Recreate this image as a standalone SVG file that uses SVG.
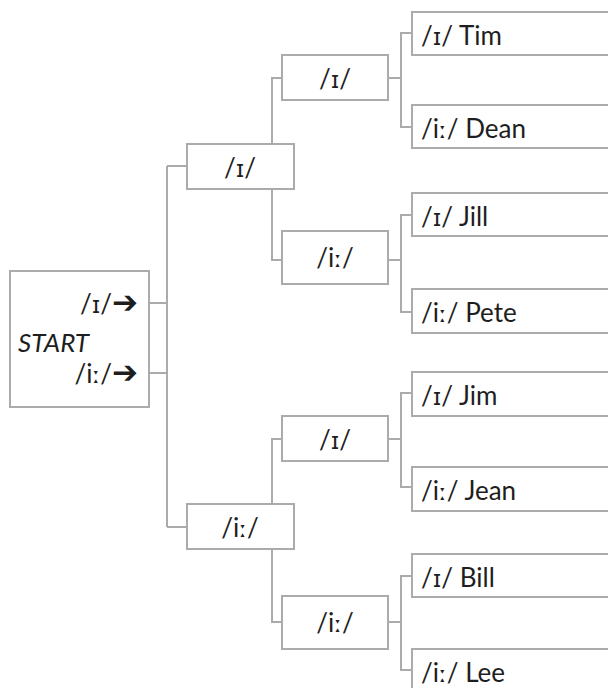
<svg xmlns="http://www.w3.org/2000/svg" width="608" height="688" viewBox="0 0 608 688">
<style>
.box{fill:#fff;stroke:#ababab;stroke-width:2}
.ln{fill:none;stroke:#ababab;stroke-width:2}
text{font-family:Lato,"DejaVu Sans",sans-serif;font-size:26px;fill:#1e1e1e}
.i{font-family:"DejaVu Sans",sans-serif;font-size:23px}
.c{text-anchor:middle}
.r{text-anchor:end}
.it{font-style:italic}
.ar{font-family:"DejaVu Sans",sans-serif;font-size:31px;font-weight:bold}
</style>
<rect width="608" height="688" fill="#fff"/>
<g id="connectors">
<path class="ln" d="M149 303H167M149 373H167M167 166V527M167 166H187M167 527H187"/>
<path class="ln" d="M272 144V78H282M272 189V260H282M272 504V439H282M272 549V622H282"/>
<path class="ln" d="M388 78H401M388 260H401M388 439H401M388 622H401"/>
<path class="ln" d="M412 33H401V127H412M412 215H401V312H412M412 393H401V487H412M412 576H401V670H412"/>
</g>
<g id="start">
<rect class="box" x="10" y="271" width="139" height="136"/>
<text class="r" x="138" y="313">/<tspan class="i">ɪ</tspan>/<tspan class="ar">➔</tspan></text>
<text class="it" x="18" y="352">START</text>
<text class="r" x="138" y="383">/i<tspan class="i">ː</tspan>/<tspan class="ar">➔</tspan></text>
</g>
<g id="n1a"><rect class="box" x="187" y="144" width="107" height="45"/><text class="c" x="240" y="177">/<tspan class="i">ɪ</tspan>/</text></g>
<g id="n1b"><rect class="box" x="187" y="504" width="107" height="45"/><text class="c" x="240" y="537">/i<tspan class="i">ː</tspan>/</text></g>
<g id="n2a"><rect class="box" x="282" y="55" width="106" height="45"/><text class="c" x="335" y="88">/<tspan class="i">ɪ</tspan>/</text></g>
<g id="n2b"><rect class="box" x="282" y="231" width="106" height="53"/><text class="c" x="335" y="267">/i<tspan class="i">ː</tspan>/</text></g>
<g id="n2c"><rect class="box" x="282" y="416" width="106" height="45"/><text class="c" x="335" y="449">/<tspan class="i">ɪ</tspan>/</text></g>
<g id="n2d"><rect class="box" x="282" y="596" width="106" height="53"/><text class="c" x="335" y="632">/i<tspan class="i">ː</tspan>/</text></g>
<g id="tim"><rect class="box" x="412" y="12" width="210" height="43"/><text x="421" y="45">/<tspan class="i">ɪ</tspan>/ Tim</text></g>
<g id="dean"><rect class="box" x="412" y="105" width="210" height="43"/><text x="421" y="138">/i<tspan class="i">ː</tspan>/ Dean</text></g>
<g id="jill"><rect class="box" x="412" y="193" width="210" height="43"/><text x="421" y="226">/<tspan class="i">ɪ</tspan>/ Jill</text></g>
<g id="pete"><rect class="box" x="412" y="289" width="210" height="44"/><text x="421" y="322">/i<tspan class="i">ː</tspan>/ Pete</text></g>
<g id="jim"><rect class="box" x="412" y="372" width="210" height="44"/><text x="421" y="405">/<tspan class="i">ɪ</tspan>/ Jim</text></g>
<g id="jean"><rect class="box" x="412" y="467" width="210" height="44"/><text x="421" y="500">/i<tspan class="i">ː</tspan>/ Jean</text></g>
<g id="bill"><rect class="box" x="412" y="554" width="210" height="43"/><text x="421" y="587">/<tspan class="i">ɪ</tspan>/ Bill</text></g>
<g id="lee"><rect class="box" x="412" y="649" width="210" height="43"/><text x="421" y="682">/i<tspan class="i">ː</tspan>/ Lee</text></g>
</svg>
